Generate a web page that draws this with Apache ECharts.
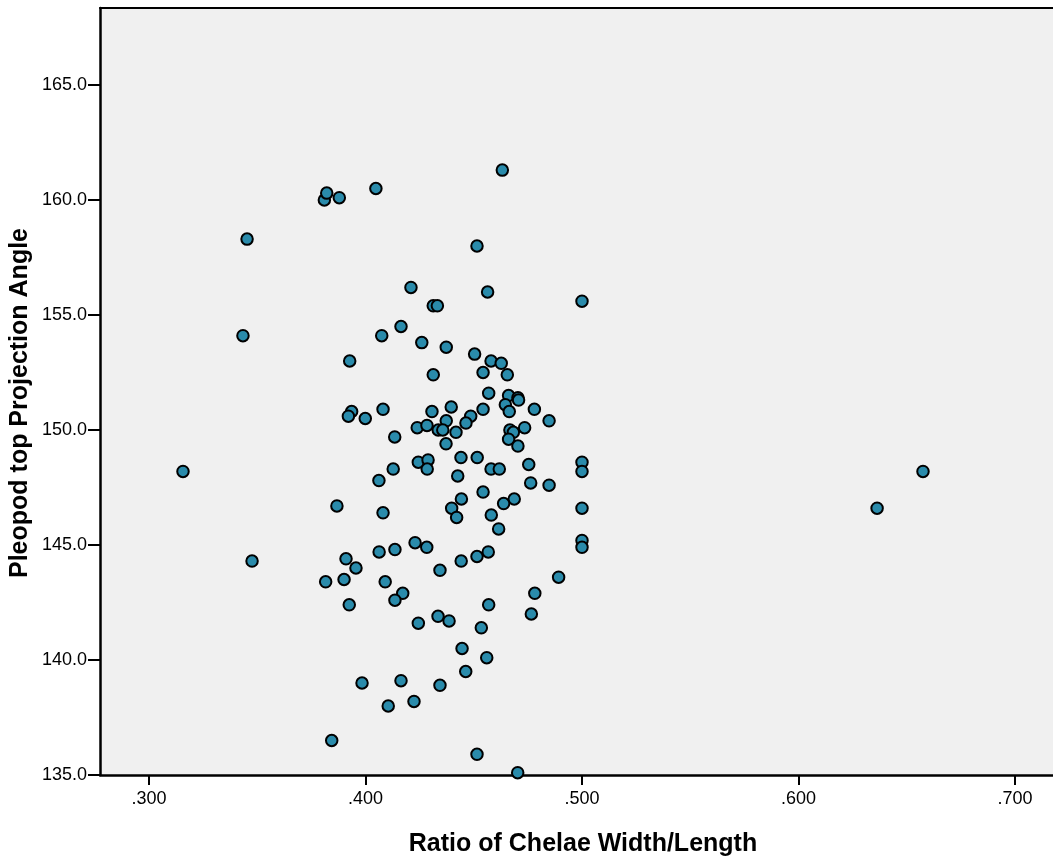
<!DOCTYPE html>
<html>
<head>
<meta charset="utf-8">
<script src="https://cdn.jsdelivr.net/npm/echarts@6/dist/echarts.min.js"></script>
<style>
  html, body { margin: 0; padding: 0; background: #ffffff; }
  #chart { width: 1053px; height: 861px; }
</style>
</head>
<body>
<div id="chart"></div>
<script>
// Ratio of chelae width/length for each specimen
const ratio = [
  0.3157, 0.3434, 0.3453, 0.3476, 0.3810, 0.3821, 0.3879, 0.4048, 0.4632, 0.4515,
  0.4210, 0.4564, 0.4313, 0.4332, 0.5000, 0.4164, 0.4075, 0.4260, 0.4373, 0.3927,
  0.4504, 0.4580, 0.4627, 0.4313, 0.4543, 0.4655, 0.4569, 0.4661, 0.4704, 0.4707,
  0.4646, 0.4664, 0.4780, 0.4848, 0.3936, 0.3921, 0.3999, 0.4081, 0.4307, 0.4396,
  0.4543, 0.4486, 0.4464, 0.4373, 0.4239, 0.4284, 0.4336, 0.4357, 0.4418, 0.4135,
  0.4372, 0.4667, 0.4683, 0.4661, 0.4735, 0.4704, 0.4441, 0.4516, 0.4244, 0.4289,
  0.4285, 0.4128, 0.4062, 0.4580, 0.4618, 0.4754, 0.5000, 0.5000, 0.4426, 0.4763,
  0.4848, 0.4543, 0.4443, 0.4398, 0.4421, 0.4687, 0.4638, 0.4581, 0.4615, 0.3868,
  0.4081, 0.5000, 0.5000, 0.5000, 0.4229, 0.4283, 0.4136, 0.4063, 0.3910, 0.4442,
  0.4515, 0.4567, 0.3956, 0.3816, 0.3901, 0.3925, 0.4091, 0.4172, 0.4136, 0.4344,
  0.4892, 0.4782, 0.4766, 0.4569, 0.4535, 0.4335, 0.4386, 0.4244, 0.4446, 0.4560,
  0.4463, 0.3984, 0.4164, 0.4344, 0.4105, 0.4224, 0.3844, 0.4515, 0.4703, 0.6363,
  0.6575
];

// Pleopod top projection angle for the same specimens
const angle = [
  148.2, 154.1, 158.3, 144.3, 160.0, 160.3, 160.1, 160.5, 161.3, 158.0,
  156.2, 156.0, 155.4, 155.4, 155.6, 154.5, 154.1, 153.8, 153.6, 153.0,
  153.3, 153.0, 152.9, 152.4, 152.5, 152.4, 151.6, 151.5, 151.4, 151.3,
  151.1, 150.8, 150.9, 150.4, 150.8, 150.6, 150.5, 150.9, 150.8, 151.0,
  150.9, 150.6, 150.3, 150.4, 150.1, 150.2, 150.0, 150.0, 149.9, 149.7,
  149.4, 150.0, 149.9, 149.6, 150.1, 149.3, 148.8, 148.8, 148.6, 148.7,
  148.3, 148.3, 147.8, 148.3, 148.3, 148.5, 148.6, 148.2, 148.0, 147.7,
  147.6, 147.3, 147.0, 146.6, 146.2, 147.0, 146.8, 146.3, 145.7, 146.7,
  146.4, 146.6, 145.2, 144.9, 145.1, 144.9, 144.8, 144.7, 144.4, 144.3,
  144.5, 144.7, 144.0, 143.4, 143.5, 142.4, 143.4, 142.9, 142.6, 143.9,
  143.6, 142.9, 142.0, 142.4, 141.4, 141.9, 141.7, 141.6, 140.5, 140.1,
  139.5, 139.0, 139.1, 138.9, 138.0, 138.2, 136.5, 135.9, 135.1, 146.6,
  148.2
];

// Tick positions shown on each axis
const xTicks = [0.3, 0.4, 0.5, 0.6, 0.7];
const yTicks = [135, 140, 145, 150, 155, 160, 165];

const xTitle = 'Ratio of Chelae Width/Length';
const yTitle = 'Pleopod top Projection Angle';

const points = ratio.map((r, i) => [r, angle[i]]);

const chart = echarts.init(document.getElementById('chart'), null, { renderer: 'canvas' });

const labelFont = {
  color: '#000000',
  fontFamily: '"Liberation Sans", Arial, sans-serif',
  fontSize: 18
};

chart.setOption({
  animation: false,
  backgroundColor: '#ffffff',
  grid: {
    left: 100,
    right: 0,
    top: 8,
    bottom: 86,
    show: true,
    backgroundColor: '#f0f0f0',
    borderWidth: 0
  },
  xAxis: [
    {
      type: 'value',
      min: 0.27737,
      max: 0.71755,
      position: 'bottom',
      axisLine: { show: true, onZero: false, lineStyle: { color: '#000', width: 2.5 } },
      axisTick: { show: true, customValues: xTicks, length: 10, lineStyle: { color: '#000', width: 2 } },
      axisLabel: {
        customValues: xTicks,
        margin: 15,
        formatter: v => v.toFixed(3).replace(/^0/, ''),
        ...labelFont
      },
      splitLine: { show: false }
    },
    {
      type: 'value',
      min: 0.27737,
      max: 0.71755,
      position: 'top',
      axisLine: { show: true, onZero: false, lineStyle: { color: '#000', width: 2 } },
      axisTick: { show: false },
      axisLabel: { show: false },
      splitLine: { show: false }
    }
  ],
  yAxis: {
    type: 'value',
    min: 135,
    max: 168.348,
    axisLine: { show: true, onZero: false, lineStyle: { color: '#000', width: 2.5 } },
    axisTick: { show: true, customValues: yTicks, length: 12, lineStyle: { color: '#000', width: 2 } },
    axisLabel: {
      customValues: yTicks,
      margin: 13,
      formatter: v => v.toFixed(1),
      ...labelFont
    },
    splitLine: { show: false }
  },
  graphic: [
    {
      type: 'text',
      x: 583,
      y: 844,
      style: {
        text: xTitle,
        font: 'bold 25px "Liberation Sans", Arial, sans-serif',
        fill: '#000',
        textAlign: 'center',
        textVerticalAlign: 'middle'
      }
    },
    {
      type: 'text',
      x: 20,
      y: 403,
      rotation: Math.PI / 2,
      style: {
        text: yTitle,
        font: 'bold 25px "Liberation Sans", Arial, sans-serif',
        fill: '#000',
        textAlign: 'center',
        textVerticalAlign: 'middle'
      }
    }
  ],
  series: [
    {
      type: 'scatter',
      xAxisIndex: 0,
      data: points,
      symbol: 'circle',
      symbolSize: 11.5,
      itemStyle: {
        color: '#2a8bab',
        borderColor: '#000000',
        borderWidth: 2,
        opacity: 1
      }
    }
  ]
});
</script>
</body>
</html>
